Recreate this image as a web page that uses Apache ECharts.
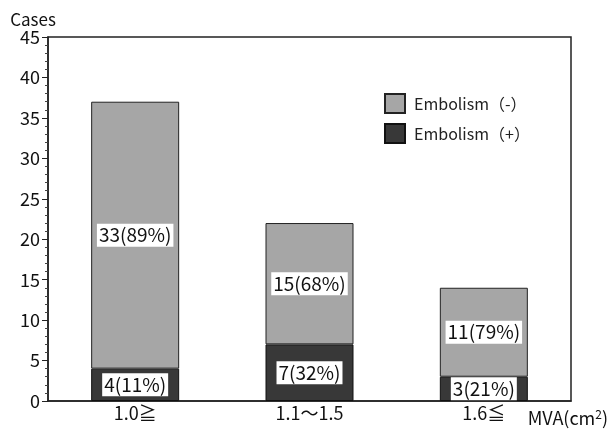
<!DOCTYPE html>
<html><head><meta charset="utf-8">
<script src="https://cdn.jsdelivr.net/npm/echarts@6/dist/echarts.min.js"></script>
<style>html,body{margin:0;padding:0;background:#fff}#c{width:611px;height:429px}</style>
</head><body><div id="c"></div>
<script>
const categories = ['1.0≧', '1.1～1.5', '1.6≦'];
const embolismPos = [4, 7, 3];
const embolismNeg = [33, 15, 11];
const posPct = [11, 32, 21];
const negPct = [89, 68, 79];
const yTicks = {min: 0, max: 45, interval: 5};

const font = '"Noto Sans CJK JP", "Noto Sans", sans-serif';
const labelStyle = (pct) => ({
  show: true, position: 'inside', color: '#111', fontSize: 19, fontFamily: font,
  backgroundColor: '#fff', padding: [1, 2, 0, 2], lineHeight: 22,
  formatter: p => p.value + '(' + pct[p.dataIndex] + '%)'
});
const chart = echarts.init(document.getElementById('c'));
chart.setOption({
  backgroundColor: '#fff',
  animation: false,
  textStyle: {fontFamily: font},
  grid: {left: 48, right: 38, top: 37, bottom: 28, show: true, borderColor: '#222', borderWidth: 1.5, backgroundColor: 'transparent'},
  legend: {
    orient: 'vertical', left: 384, top: 93, itemWidth: 20, itemHeight: 19, itemGap: 9, padding: 0,
    icon: 'rect',
    textStyle: {fontSize: 16, lineHeight: 20, color: '#222', fontFamily: font, padding: [0, 0, 0, 4]},
    data: ['Embolism（-）', 'Embolism（+）']
  },
  xAxis: {
    type: 'category', data: categories,
    axisLine: {lineStyle: {color: '#222', width: 1.5}},
    axisTick: {show: false},
    axisLabel: {fontSize: 18, color: '#111', margin: 3, fontFamily: font},
    name: 'MVA(cm{sup|2})', nameLocation: 'end', nameGap: 37,
    nameTextStyle: {align: 'right', verticalAlign: 'top', padding: [7, 0, 0, 0], fontSize: 18, color: '#111',
      rich: {sup: {fontSize: 12, padding: [0, 0, 8, 0], color: '#111'}}}
  },
  yAxis: {
    type: 'value', min: yTicks.min, max: yTicks.max, interval: yTicks.interval,
    axisLine: {show: true, lineStyle: {color: '#222', width: 1.5}},
    axisTick: {show: true, length: 6, lineStyle: {color: '#222'}},
    minorTick: {show: true, splitNumber: 5, length: 3, lineStyle: {color: '#444'}},
    splitLine: {show: false},
    axisLabel: {fontSize: 18, color: '#111', margin: 8, fontFamily: font},
    name: 'Cases', nameLocation: 'end', nameGap: 9,
    nameTextStyle: {fontSize: 17, color: '#111', align: 'center', padding: [0, 30, 0, 0]}
  },
  series: [
    {
      name: 'Embolism（+）', type: 'bar', stack: 'a', data: embolismPos, barWidth: 88,
      itemStyle: {color: '#383838', borderColor: '#111', borderWidth: 1},
      label: labelStyle(posPct)
    },
    {
      name: 'Embolism（-）', type: 'bar', stack: 'a', data: embolismNeg, barWidth: 88,
      itemStyle: {color: '#a6a6a6', borderColor: '#222', borderWidth: 1},
      label: labelStyle(negPct)
    }
  ]
});
</script></body></html>
